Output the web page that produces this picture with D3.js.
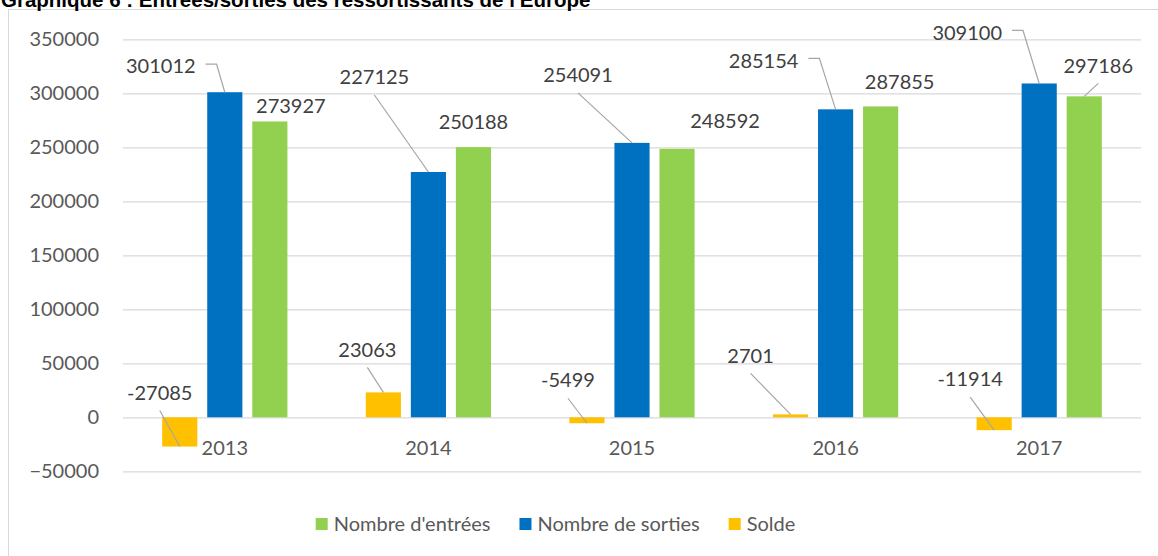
<!DOCTYPE html>
<html>
<head>
<meta charset="utf-8">
<script src="https://cdn.jsdelivr.net/npm/d3@7"></script>
<style>
  body { margin: 0; background: #fff; }
  svg { display: block; font-family: Lato, "Open Sans", sans-serif; }
</style>
</head>
<body>
<div id="chart"></div>
<script>
// data
var years = ["2013", "2014", "2015", "2016", "2017"];
var entrees = [273927, 250188, 248592, 287855, 297186];
var sorties = [301012, 227125, 254091, 285154, 309100];
var solde = [-27085, 23063, -5499, 2701, -11914];
var yTicks = [-50000, 0, 50000, 100000, 150000, 200000, 250000, 300000, 350000];
var legendNames = ["Nombre d'entrées", "Nombre de sorties", "Solde"];

// where Excel put each label, in px from the end of its bar
var soldeLabelShift = [[-20, -54], [-16, -43], [-19, -43], [-40, -59], [-24, -51]];
var sortiesLabelShift = [[-64, -26], [-54, -95], [-54, -68], [-72, -49], [-72, -51]];
var entreesLabelShift = [[21, -16], [0, -25], [48, -28], [19, -25], [14, -31]];
var soldeLeader = ["below", "below", "below", "below", "below"];
var sortiesLeader = ["side", "below", "below", "side", "side"];
var entreesLeader = [null, null, null, null, "below"];

var colors = { entrees: "#92D050", sorties: "#0070C0", solde: "#FFC000" };

var svgWidth = 1158, svgHeight = 556;
var plot = { left: 123, right: 1141, top: 39.3, bottom: 471.3 };

var svg = d3.select("#chart").append("svg")
  .attr("width", svgWidth)
  .attr("height", svgHeight);

// chart frame (runs off the picture at right and bottom)
svg.append("rect")
  .attr("x", 8.5).attr("y", 9.5)
  .attr("width", 1160).attr("height", 560)
  .attr("fill", "#fff")
  .attr("stroke", "#d9d9d9");

// title, its top is cut by the picture edge like in the source
svg.append("text")
  .attr("x", 1).attr("y", 7)
  .attr("font-family", "'Liberation Sans', Arial, sans-serif")
  .attr("font-weight", "bold")
  .attr("font-size", 20.5)
  .attr("fill", "#000")
  .text("Graphique 6 : Entrées/sorties des ressortissants de l'Europe");

// scales
var y = d3.scaleLinear().domain([-50000, 350000]).range([plot.bottom, plot.top]);
var x0 = d3.scaleBand().domain(years).range([plot.left, plot.right])
  .paddingInner(0.385).paddingOuter(0.1925);
var keys = ["solde", "sorties", "entrees"];
var x1 = d3.scaleBand().domain(keys).range([0, x0.bandwidth()]).paddingInner(0.22);

// gridlines + y tick labels
var yAxis = d3.axisLeft(y).tickValues(yTicks).tickSize(-(plot.right - plot.left)).tickPadding(24)
  .tickFormat(d3.format("d"));
var gy = svg.append("g")
  .attr("transform", `translate(${plot.left},0)`)
  .call(yAxis);
gy.select(".domain").remove();
gy.selectAll(".tick line").attr("stroke", "#d9d9d9").attr("stroke-width", 1.2);
gy.selectAll(".tick text")
  .attr("fill", "#595959")
  .attr("font-size", 20)
  .attr("font-family", "Lato, sans-serif");

// bars
var rows = years.map(function(yr, i) {
  return { year: yr, i: i, solde: solde[i], sorties: sorties[i], entrees: entrees[i] };
});

var groups = svg.append("g").selectAll("g")
  .data(rows)
  .enter()
  .append("g")
  .attr("transform", d => `translate(${x0(d.year)},0)`);

groups.selectAll("rect")
  .data(d => keys.map(k => ({ key: k, value: d[k] })))
  .enter()
  .append("rect")
  .attr("x", d => x1(d.key))
  .attr("width", x1.bandwidth())
  .attr("y", d => y(Math.max(0, d.value)))
  .attr("height", d => Math.abs(y(d.value) - y(0)))
  .attr("fill", d => colors[d.key]);

// year labels under the zero line
var xAxis = d3.axisBottom(x0).tickSize(0).tickPadding(24);
var gx = svg.append("g")
  .attr("transform", `translate(0,${y(0)})`)
  .call(xAxis);
gx.select(".domain").remove();
gx.selectAll(".tick text")
  .attr("fill", "#595959")
  .attr("font-size", 20)
  .attr("font-family", "Lato, sans-serif");

// data labels with leader lines
var labelLayer = svg.append("g");
var leaderLayer = svg.append("g");

function addLabels(key, values, shifts, leaders) {
  values.forEach(function(v, i) {
    var bx = x0(years[i]) + x1(key) + x1.bandwidth() / 2;
    var by = y(v);
    var cx = bx + shifts[i][0];
    var cy = by + shifts[i][1];
    var t = labelLayer.append("text")
      .attr("x", cx).attr("y", cy)
      .attr("dy", "0.36em")
      .attr("text-anchor", "middle")
      .attr("font-size", 20)
      .attr("fill", "#404040")
      .text(v);
    var w = t.node().getComputedTextLength();
    var pts = null;
    if (leaders[i] === "below") {
      pts = [[cx, cy + 18], [bx, by]];
    } else if (leaders[i] === "side") {
      pts = [[cx + w / 2 + 10, cy - 2], [cx + w / 2 + 21, cy - 2], [bx, by]];
    }
    if (pts) {
      leaderLayer.append("path")
        .attr("d", d3.line()(pts))
        .attr("fill", "none")
        .attr("stroke", "#a6a6a6")
        .attr("stroke-width", 1.2);
    }
  });
}
addLabels("solde", solde, soldeLabelShift, soldeLeader);
addLabels("sorties", sorties, sortiesLabelShift, sortiesLeader);
addLabels("entrees", entrees, entreesLabelShift, entreesLeader);

// legend, centred below the plot
var legendKeys = ["entrees", "sorties", "solde"];
var legend = svg.append("g").attr("transform", "translate(0,524)");
var lx = 0;
legendKeys.forEach(function(k, i) {
  var g = legend.append("g");
  g.append("rect")
    .attr("x", 0).attr("y", -6)
    .attr("width", 12).attr("height", 12)
    .attr("fill", colors[k]);
  var t = g.append("text")
    .attr("x", 18).attr("dy", "0.36em")
    .attr("font-size", 20)
    .attr("fill", "#595959")
    .text(legendNames[i]);
  var w = 18 + t.node().getComputedTextLength();
  g.attr("transform", `translate(${lx},0)`);
  lx += w + 29;
});
var legendWidth = lx - 29;
legend.attr("transform", `translate(${555.5 - legendWidth / 2},524)`);
</script>
</body>
</html>
